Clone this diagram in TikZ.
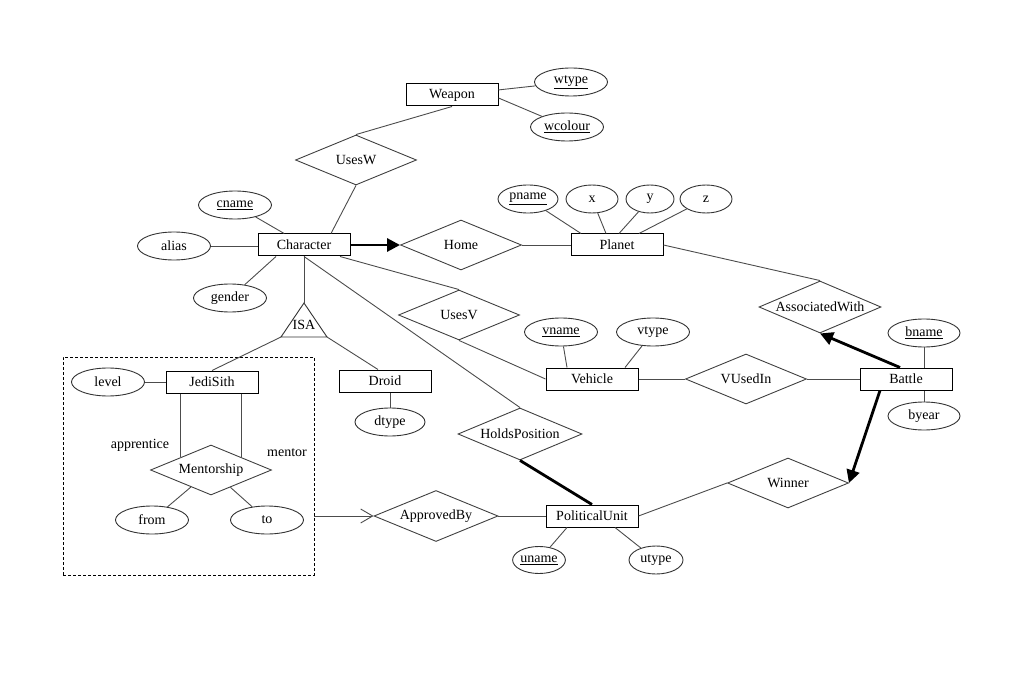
\documentclass[tikz,border=0pt]{standalone}
\usepackage{fontspec}
\setmainfont{Liberation Serif}
\usetikzlibrary{shapes.geometric,arrows.meta}
\newcommand{\rtxt}[1]{\makebox[0pt]{#1}}

\begin{document}
\begin{tikzpicture}[x=1pt, y=-1pt,
    font=\fontsize{14}{16}\selectfont,
    every node/.style={inner sep=0pt},
    ent/.style={draw, rectangle, line width=1pt, minimum width=92pt, minimum height=22pt},
    attr/.style={draw=black!80, ellipse, line width=0.9pt, minimum width=73pt, minimum height=28pt},
    rel/.style={draw=black!75, diamond, line width=0.9pt, minimum width=121pt, minimum height=50pt},
    aggbox/.style={draw, line width=0.9pt, dash pattern=on 3pt off 2pt, minimum width=251pt, minimum height=218pt},
    lnk/.style={draw=black!70, line width=0.9pt},
    arr/.style={line width=2.8pt, -{Triangle[length=13pt, width=13pt]}}]
    \useasboundingbox (0,0) rectangle (1024,692);
    % aggregation box round the mentorship
    \node[aggbox] (Agg) at (188.5,466) {};
    % entities
    \node[ent] (Weapon) at (452,95) {Weapon};
    \node[ent] (Character) at (304,245) {Character};
    \node[ent] (Planet) at (617,245) {Planet};
    \node[ent] (JediSith) at (212,382) {JediSith};
    \node[ent] (Droid) at (385,381) {Droid};
    \node[ent] (Vehicle) at (592,379) {Vehicle};
    \node[ent] (Battle) at (906,379) {Battle};
    \node[ent] (PolUnit) at (592,516) {PoliticalUnit};
    % relationships
    \node[rel] (UsesW) at (356,160) {\rtxt{UsesW}};
    \node[rel] (Home) at (461,245) {\rtxt{Home}};
    \node[rel] (UsesV) at (459,315) {\rtxt{UsesV}};
    \node[rel] (Mentorship) at (211,470) {\rtxt{Mentorship}};
    \node[rel, minimum width=124pt, minimum height=52pt] (HoldsPos) at (520,434) {\rtxt{HoldsPosition}};
    \node[rel, minimum width=124pt, minimum height=51pt] (ApprBy) at (436,516) {\rtxt{ApprovedBy}};
    \node[rel] (VUsedIn) at (746,379) {\rtxt{VUsedIn}};
    \node[rel, minimum width=122pt, minimum height=52pt] (AssocW) at (820,307) {\rtxt{AssociatedWith}};
    \node[rel] (Winner) at (788,483) {\rtxt{Winner}};
    % attributes
    \node[attr] (wtype) at (571,82) {\underline{wtype}};
    \node[attr] (wcolour) at (567,127) {\underline{wcolour}};
    \node[attr] (cname) at (235,205) {\underline{cname}};
    \node[attr] (alias) at (174,246) {alias};
    \node[attr] (gender) at (230,298) {gender};
    \node[attr, minimum width=60pt] (pname) at (528,199) {\underline{pname}};
    \node[attr, minimum width=52pt] (px) at (592,199) {x};
    \node[attr, minimum width=48pt] (py) at (650,199) {y};
    \node[attr, minimum width=52pt] (pz) at (706,199) {z};
    \node[attr] (level) at (108,382) {level};
    \node[attr, minimum width=70pt] (dtype) at (390,422) {dtype};
    \node[attr] (from) at (152,520) {from};
    \node[attr] (to) at (267,520) {to};
    \node[attr] (vname) at (561,332) {\underline{vname}};
    \node[attr] (vtype) at (653,332) {vtype};
    \node[attr, minimum width=72pt] (bname) at (924,333) {\underline{bname}};
    \node[attr, minimum width=72pt] (byear) at (924,416) {byear};
    \node[attr, minimum width=52pt, minimum height=27pt] (uname) at (539,560) {\underline{uname}};
    \node[attr, minimum width=54pt] (utype) at (656,560) {utype};
    % ISA triangle
    \node (ISA) at (304,325) {ISA};
    \draw[draw=black!80, line width=0.9pt] (304,303) coordinate (isaTop) -- (327,337) coordinate (isaR)
        -- (281,337) coordinate (isaL) -- cycle;
    % role labels
    \node (lblApp) at (140,445) {apprentice};
    \node (lblMen) at (287,453) {mentor};
    % connectors
    \draw[lnk] (Weapon.south) -- (UsesW.north);
    \draw[lnk] (Weapon) -- (wtype);
    \draw[lnk] ([yshift=-3pt]Weapon.east) -- (wcolour);
    \draw[lnk] (UsesW.south) -- ([xshift=27pt]Character.north);
    \draw[lnk] (Character) -- (cname);
    \draw[lnk] (alias.east) -- (alias.east -| Character.west);
    \draw[lnk] ([xshift=-28pt]Character.south) -- (gender);
    \draw[arr] (Character.east) -- (Home.west);
    \draw[lnk] (Home.east) -- (Planet.west);
    \draw[lnk] ([xshift=-36pt]Planet.north) -- (pname);
    \draw[lnk] ([xshift=-11pt]Planet.north) -- (px);
    \draw[lnk] ([xshift=2pt]Planet.north) -- (py);
    \draw[lnk] ([xshift=22pt]Planet.north) -- (pz);
    \draw[lnk] (Planet.east) -- (AssocW.north);
    \draw[lnk] ([xshift=36pt]Character.south) -- (UsesV.north);
    \draw[lnk] (UsesV.south) -- (Vehicle.west);
    \draw[lnk] (Character.south) -- (HoldsPos.north);
    \draw[line width=2.8pt] (HoldsPos.south) -- (PolUnit.north);
    \draw[lnk] (Character.south) -- (isaTop);
    \draw[lnk] (isaL) -- (JediSith.north);
    \draw[lnk] (isaR) -- ([xshift=-7pt]Droid.north);
    \draw[lnk] (dtype.north) -- (dtype.north |- Droid.south);
    \draw[lnk] (level) -- (JediSith);
    \draw[lnk] (Mentorship.north west |- JediSith.south) -- (Mentorship.north west);
    \draw[lnk] (Mentorship.north east |- JediSith.south) -- (Mentorship.north east);
    \draw[lnk] (Mentorship) -- (from);
    \draw[lnk] (Mentorship) -- (to);
    \draw[lnk, -{Straight Barb[length=12pt, width=14pt]}] (Agg.east |- ApprBy.west) -- (ApprBy.west);
    \draw[lnk] (ApprBy.east) -- (PolUnit.west);
    \draw[lnk] ([xshift=-25pt]PolUnit.south) -- (uname);
    \draw[lnk] ([xshift=23pt]PolUnit.south) -- (utype);
    \draw[lnk] (PolUnit.east) -- (Winner.west);
    \draw[lnk] ([xshift=-25pt]Vehicle.north) -- (vname);
    \draw[lnk] ([xshift=33pt]Vehicle.north) -- (vtype);
    \draw[lnk] (Vehicle.east) -- (VUsedIn.west);
    \draw[lnk] (VUsedIn.east) -- (Battle.west);
    \draw[lnk] (bname.south) -- (bname.south |- Battle.north);
    \draw[lnk] (byear.north) -- (byear.north |- Battle.south);
    \draw[arr] ([xshift=-6pt]Battle.north) -- (AssocW.south);
    \draw[arr] ([xshift=-26pt]Battle.south) -- (Winner.east);
\end{tikzpicture}
\end{document}
